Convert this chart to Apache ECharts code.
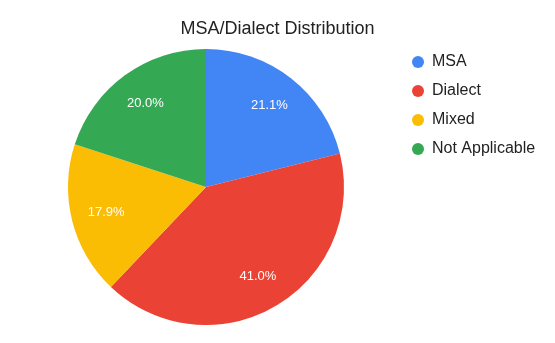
<!DOCTYPE html>
<html>
<head>
<meta charset="utf-8">
<script src="https://cdn.jsdelivr.net/npm/echarts@6/dist/echarts.min.js"></script>
<style>
  html, body { margin: 0; padding: 0; background: #fff; }
  #main { width: 555px; height: 343px; }
</style>
</head>
<body>
<div id="main"></div>
<script>
var categories = ['MSA', 'Dialect', 'Mixed', 'Not Applicable'];
var values = [21.1, 41.0, 17.9, 20.0];
var colors = ['#4285F4', '#EA4335', '#FBBC04', '#34A853'];

var pieData = categories.map(function (name, i) {
  return { name: name, value: values[i] };
});

var myChart = echarts.init(document.getElementById('main'));
var font = 'Liberation Sans, Arial, sans-serif';

var option = {
  color: colors,
  animation: false,
  title: {
    text: 'MSA/Dialect Distribution',
    left: 'center',
    top: 15,
    textStyle: { fontFamily: font, fontSize: 18, fontWeight: 'normal', color: '#222' }
  },
  legend: {
    orient: 'vertical',
    left: 407,
    top: 48,
    icon: 'circle',
    itemWidth: 12,
    itemHeight: 12,
    itemGap: 11,
    selectedMode: false,
    data: categories,
    textStyle: { fontFamily: font, fontSize: 16, lineHeight: 18, color: '#222', padding: [0, 0, 0, 3] }
  },
  series: [
    {
      // the visible pie
      type: 'pie',
      center: [206, 187],
      radius: [0, 138],
      startAngle: 90,
      clockwise: true,
      label: { show: false },
      labelLine: { show: false },
      emphasis: { disabled: true },
      data: pieData
    },
    {
      // invisible ring used to place percent labels further out
      type: 'pie',
      silent: true,
      center: [206, 187],
      radius: [62, 138],
      startAngle: 90,
      clockwise: true,
      itemStyle: { color: 'rgba(0,0,0,0)' },
      label: {
        show: true,
        position: 'inside',
        formatter: function (p) { return p.value.toFixed(1) + '%'; },
        color: '#fff',
        fontFamily: font,
        fontSize: 13
      },
      labelLine: { show: false },
      emphasis: { disabled: true },
      data: pieData
    }
  ]
};
myChart.setOption(option);
</script>
</body>
</html>
